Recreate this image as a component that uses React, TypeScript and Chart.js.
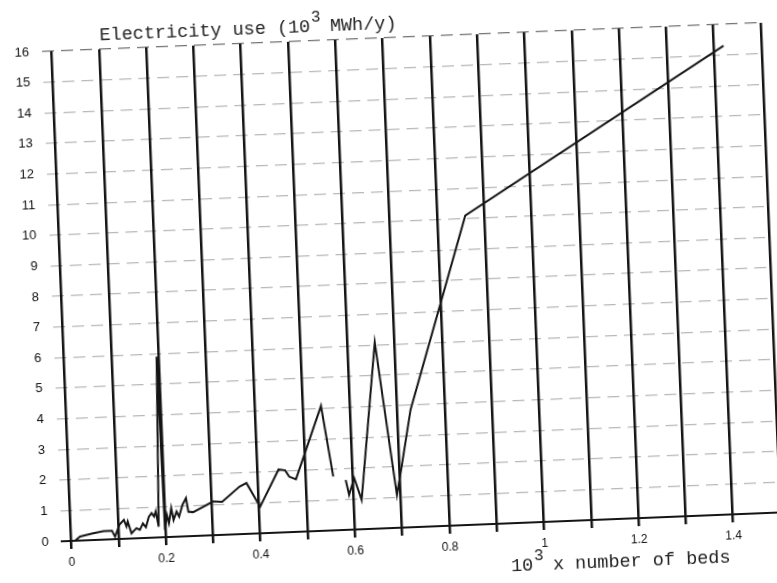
import React, { useEffect, useRef } from "react";
import { Chart, registerables } from "chart.js";

Chart.register(...registerables);

// number of beds (10^3)
const bedsX: (number)[] = [
  0.008, 0.019, 0.047, 0.069, 0.087, 0.093, 0.103, 0.113, 0.118, 0.121,
  0.128, 0.139, 0.146, 0.153, 0.159, 0.166, 0.172, 0.177, 0.181, 0.186,
  0.196, 0.199, 0.204, 0.208, 0.214, 0.218, 0.225, 0.23, 0.238, 0.246,
  0.25, 0.26, 0.303, 0.322, 0.36, 0.375, 0.402, 0.444, 0.458, 0.466,
  0.48, 0.539, 0.559, 0.572, 0.585, 0.591, 0.603, 0.617, 0.658, 0.692,
  0.705, 0.728, 0.86, 1.42,
];
// electricity use (10^3 MWh/y); null = gap in the trace
const electricityY: (number | null)[] = [
  0.0, 0.13, 0.22, 0.28, 0.28, 0.08, 0.46, 0.62, 0.4, 0.56,
  0.17, 0.33, 0.27, 0.48, 0.35, 0.69, 0.8, 0.69, 0.85, 0.35,
  5.9, 0.24, 0.73, 0.45, 0.94, 0.55, 0.82, 0.65, 1.03, 1.25,
  0.8, 0.78, 1.1, 1.08, 1.55, 1.66, 0.87, 2.06, 2.02, 1.81,
  1.72, 4.08, 1.76, null, 1.63, 1.14, 1.68, 0.96, 6.08, 1.07,
  2.05, 3.84, 10.1, 15.3,
];

const xTickValues = [0, 0.1, 0.2, 0.3, 0.4, 0.5, 0.6, 0.7, 0.8, 0.9, 1.0, 1.1, 1.2, 1.3, 1.4, 1.5];
const xTickLabels = ["0", "", "0.2", "", "0.4", "", "0.6", "", "0.8", "", "1", "", "1.2", "", "1.4", ""];
const yTickValues = [0, 1, 2, 3, 4, 5, 6, 7, 8, 9, 10, 11, 12, 13, 14, 15, 16];
const yTickLabels = ["0", "1", "2", "3", "4", "5", "6", "7", "8", "9", "10", "11", "12", "13", "14", "15", "16"];

const yTitleParts = ["Electricity use (10", "3", " MWh/y)"];
const xTitleParts = ["10", "3", " x number of beds"];

export default function App() {
  const ref = useRef<HTMLCanvasElement | null>(null);

  useEffect(() => {
    if (!ref.current) return;
    const points = bedsX.map((x, i) => ({ x, y: electricityY[i] }));

    const drawSup = (ctx: CanvasRenderingContext2D, parts: string[], x: number, y: number, big: number, small: number, rise: number) => {
      ctx.font = `${big}px "Liberation Mono"`;
      ctx.fillText(parts[0], x, y);
      let cx = x + ctx.measureText(parts[0]).width + 1;
      ctx.font = `${small}px "Liberation Mono"`;
      ctx.fillText(parts[1], cx, y - rise);
      cx += ctx.measureText(parts[1]).width - 2;
      ctx.font = `${big}px "Liberation Mono"`;
      ctx.fillText(parts[2], cx, y);
    };

    const titles = {
      id: "scanTitles",
      afterDraw(chart: any) {
        const ctx = chart.ctx as CanvasRenderingContext2D;
        ctx.save();
        ctx.fillStyle = "#222";
        ctx.textBaseline = "alphabetic";
        ctx.textAlign = "left";
        drawSup(ctx, yTitleParts, 110, 29, 18.5, 16, 10);
        drawSup(ctx, xTitleParts, 500, 576, 18.5, 16, 10);
        ctx.restore();
      },
    };

    const chart = new Chart(ref.current, {
      type: "line",
      data: {
        datasets: [
          {
            data: points as any,
            borderColor: "#151515",
            borderWidth: 2,
            pointRadius: 0,
            tension: 0,
            spanGaps: false,
            fill: false,
          },
        ],
      },
      options: {
        animation: false,
        responsive: false,
        devicePixelRatio: 1,
        layout: { padding: { left: 0, right: 3, top: 38, bottom: 0 } },
        plugins: { legend: { display: false }, tooltip: { enabled: false }, title: { display: false } },
        scales: {
          x: {
            type: "linear",
            min: -0.02,
            max: 1.5,
            afterBuildTicks: (s: any) => {
              s.ticks = xTickValues.map((v) => ({ value: v }));
            },
            afterFit: (s: any) => {
              s.height = 55;
            },
            ticks: {
              autoSkip: false,
              maxRotation: 0,
              padding: 6,
              color: "#111",
              font: { family: "Liberation Sans", size: 12 },
              callback: (_v: any, i: number) => xTickLabels[i],
            },
            grid: { color: "#151515", lineWidth: 2.5, tickLength: 8, drawTicks: true },
            border: { display: true, color: "#151515", width: 2 },
          },
          y: {
            type: "linear",
            min: 0,
            max: 16,
            afterBuildTicks: (s: any) => {
              s.ticks = yTickValues.map((v) => ({ value: v }));
            },
            afterFit: (s: any) => {
              s.width = 52;
            },
            ticks: {
              padding: 13,
              color: "#111",
              font: { family: "Liberation Sans", size: 13 },
              callback: (_v: any, i: number) => yTickLabels[i],
            },
            grid: {
              color: (c: any) => (c.tick && c.tick.value === 16 ? "rgba(0,0,0,0.55)" : c.tick && c.tick.value === 0 ? "rgba(0,0,0,0)" : "rgba(0,0,0,0.28)"),
              lineWidth: 1.2,
              drawTicks: false,
            },
            border: { display: false, dash: [12, 7] },
          },
        },
      } as any,
      plugins: [titles],
    });
    return () => chart.destroy();
  }, []);

  return (
    <div style={{ position: "fixed", left: 0, top: 0, width: 777, height: 583, overflow: "hidden", background: "#fff" }}>
      <canvas
        ref={ref}
        width={777}
        height={583}
        style={{ width: 777, height: 583, display: "block", transform: "rotate(-2.3deg)", transformOrigin: "388.5px 291.5px" }}
      />
    </div>
  );
}
